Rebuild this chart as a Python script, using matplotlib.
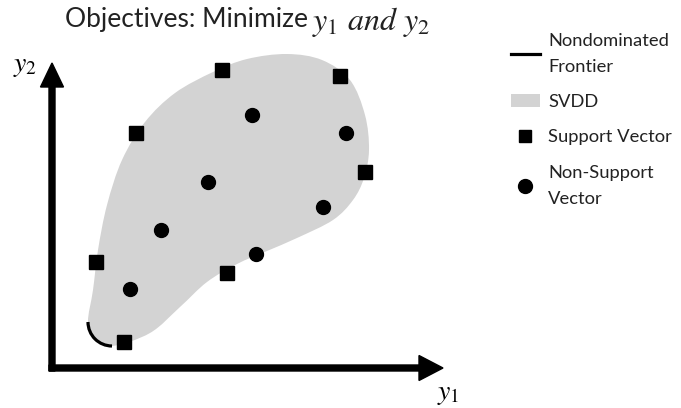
import matplotlib
matplotlib.use("Agg")
import matplotlib.pyplot as plt
from matplotlib.path import Path
from matplotlib.patches import PathPatch, Arc, Patch
from matplotlib.lines import Line2D
import numpy as np

plt.rcParams["font.family"] = ["Lato", "DejaVu Sans"]
plt.rcParams["mathtext.fontset"] = "stix"

# objective space points (y1, y2)
support_y1 = [170, 288, 84, 313, 44, 175, 72]
support_y2 = [298, 292, 235, 196, 106, 95, 26]
nonsupport_y1 = [200, 294, 156, 271, 109, 204, 78]
nonsupport_y2 = [253, 235, 186, 161, 138, 114, 79]

# SVDD boundary (closed)
svdd_y1 = [60, 98, 128, 155, 185, 215, 245, 281, 301, 312, 317, 313, 298, 270,
           235, 195, 161, 123, 93, 70, 55, 46, 41, 36, 43]
svdd_y2 = [22, 35, 61, 86, 104, 117, 130, 148, 168, 190, 218, 253, 288, 308,
           314, 309, 296, 275, 246, 208, 163, 118, 78, 46, 30]

# nondominated frontier: arc around the lower-left corner of the SVDD
front_center = (60, 46)
front_radius = 24


def closed_smooth_path(xs, ys):
    # catmull-rom through the points, turned into cubic bezier segments
    p = np.column_stack([xs, ys]).astype(float)
    n = len(p)
    verts = [p[0]]
    codes = [Path.MOVETO]
    for i in range(n):
        p0, p1, p2, p3 = p[i - 1], p[i], p[(i + 1) % n], p[(i + 2) % n]
        verts += [p1 + (p2 - p0) / 6, p2 - (p3 - p1) / 6, p2]
        codes += [Path.CURVE4] * 3
    return Path(verts, codes)


fig = plt.figure(figsize=(6.81, 4.08), dpi=100)
ax = fig.add_axes([0, 0, 1, 1])
ax.set_xlim(-52, 629)
ax.set_ylim(-40, 368)
ax.axis("off")

ax.add_patch(PathPatch(closed_smooth_path(svdd_y1, svdd_y2),
                       facecolor="#d3d3d3", edgecolor="none", zorder=1))
ax.add_patch(Arc(front_center, 2 * front_radius, 2 * front_radius,
                 theta1=180, theta2=270, color="black", lw=2.3, zorder=2))

ax.plot(support_y1, support_y2, "s", color="black", ms=10.5, zorder=3)
ax.plot(nonsupport_y1, nonsupport_y2, "o", color="black", ms=10, zorder=3)

# axes arrows
ax.arrow(0, -3, 0, 308, width=6, head_width=23, head_length=24,
         length_includes_head=True, color="black", zorder=4)
ax.arrow(-3, 0, 394, 0, width=6, head_width=25, head_length=24,
         length_includes_head=True, color="black", zorder=4)
ax.text(-27, 302, r"$y_2$", fontsize=20, ha="center", va="center")
ax.text(396, -26, r"$y_1$", fontsize=20, ha="center", va="center")

ax.text(13, 348, "Objectives: Minimize", fontsize=19,
        ha="left", va="center", color="#222222")
ax.text(260, 346, r"$y_1\ and\ y_2$", fontsize=23,
        ha="left", va="center", color="#222222")

handles = [
    Line2D([], [], color="black", lw=2.3),
    Patch(facecolor="#d3d3d3", edgecolor="none"),
    Line2D([], [], ls="none", marker="s", color="black", ms=9),
    Line2D([], [], ls="none", marker="o", color="black", ms=10),
]
labels = ["Nondominated\nFrontier", "SVDD", "Support Vector", "Non-Support\nVector"]
leg = fig.legend(handles, labels, loc="upper left",
                 bbox_to_anchor=(494 / 681, 1 - 16 / 408),
                 frameon=False, fontsize=13.2, labelspacing=1.05, handlelength=1.6,
                 handletextpad=0.45, labelcolor="#222222")
for t in leg.get_texts():
    t.set_linespacing(1.8)

fig.savefig("out.png", dpi=100)
